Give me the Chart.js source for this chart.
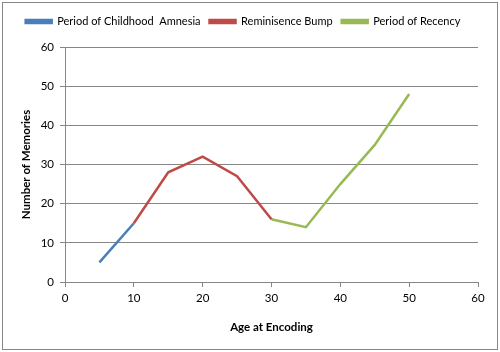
<!DOCTYPE html>
<html>
<head>
<meta charset="utf-8">
<script src="https://cdn.jsdelivr.net/npm/chart.js@4/dist/chart.umd.min.js"></script>
<style>
    html, body { margin: 0; padding: 0; background: #fff; }
    #wrap { position: relative; width: 500px; height: 352px; }
    #frame { position: absolute; left: 2px; top: 2px; width: 494px; height: 346px; border: 1px solid #868686; pointer-events: none; }
</style>
</head>
<body>
<div id="wrap">
    <canvas id="memoryChart" width="500" height="352"></canvas>
    <div id="frame"></div>
</div>
<script>
    // ages and memory counts
    const amnesiaAges = [5, 10];
    const amnesiaCounts = [5, 15];
    const bumpAges = [10, 15, 20, 25, 30];
    const bumpCounts = [15, 28, 32, 27, 16];
    const recencyAges = [30, 35, 40, 45, 50];
    const recencyCounts = [16, 14, 25, 35, 48];
    const seriesLabels = ["Period of Childhood  Amnesia", "Reminisence Bump", "Period of Recency"];

    const toPoints = (xs, ys) => xs.map((x, i) => ({ x: x, y: ys[i] }));

    const fontFamily = "Lato, 'Open Sans', sans-serif";
    const gridGray = "#868686";

    function lineSet(label, xs, ys, color) {
        return {
            label: label,
            data: toPoints(xs, ys),
            borderColor: color,
            backgroundColor: color,
            borderWidth: 2.5,
            showLine: true,
            pointRadius: 0,
            pointHoverRadius: 0,
            fill: false,
            tension: 0,
        };
    }

    // leave a bit more room under the legend, like the original
    const legendSpacer = {
        id: "legendSpacer",
        beforeInit(chart) {
            const originalFit = chart.legend.fit;
            chart.legend.fit = function () {
                originalFit.bind(chart.legend)();
                this.height += 10;
            };
        }
    };

    const ctx = document.getElementById("memoryChart").getContext("2d");
    new Chart(ctx, {
        type: "scatter",
        data: {
            datasets: [
                lineSet(seriesLabels[0], amnesiaAges, amnesiaCounts, "#4A7EBB"),
                lineSet(seriesLabels[1], bumpAges, bumpCounts, "#BE4B48"),
                lineSet(seriesLabels[2], recencyAges, recencyCounts, "#98B954"),
            ]
        },
        plugins: [legendSpacer],
        options: {
            responsive: false,
            animation: false,
            layout: {
                padding: { top: 7, left: 8, right: 22, bottom: 14 }
            },
            plugins: {
                tooltip: { enabled: false },
                legend: {
                    position: "top",
                    labels: {
                        boxWidth: 26,
                        boxHeight: 3,
                        padding: 9,
                        color: "#000",
                        font: { family: fontFamily, size: 11 },
                    }
                }
            },
            scales: {
                x: {
                    type: "linear",
                    min: 0,
                    max: 60,
                    ticks: { stepSize: 10, color: "#000", padding: 4, font: { family: fontFamily, size: 11.5 } },
                    grid: { drawOnChartArea: false, color: gridGray, tickLength: 5 },
                    border: { color: gridGray },
                    title: {
                        display: true,
                        text: "Age at Encoding",
                        color: "#000",
                        font: { family: fontFamily, size: 11.5, weight: "bold" },
                    },
                    afterFit: function (scale) { scale.height = 56; }
                },
                y: {
                    min: 0,
                    max: 60,
                    ticks: { stepSize: 10, color: "#000", padding: 6, font: { family: fontFamily, size: 11.5 } },
                    grid: { color: gridGray, tickLength: 5 },
                    border: { color: gridGray },
                    title: {
                        display: true,
                        text: "Number of Memories",
                        color: "#000",
                        padding: { top: 11, bottom: 4 },
                        font: { family: fontFamily, size: 11.5, weight: "bold" },
                    },
                    afterFit: function (scale) { scale.width = 57; }
                }
            }
        }
    });
</script>
</body>
</html>
